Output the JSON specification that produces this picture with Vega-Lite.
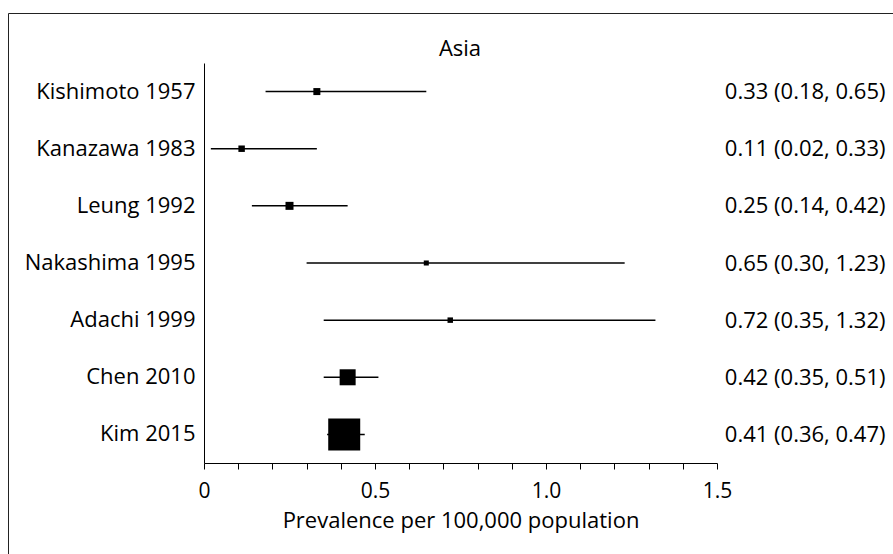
{
  "$schema": "https://vega.github.io/schema/vega-lite/v6.json",
  "autosize": "none",
  "width": 890,
  "height": 545,
  "padding": {"left": 8, "top": 13, "right": -5, "bottom": -4},
  "background": "white",
  "title": {"text": "Asia", "fontSize": 22, "fontWeight": "normal", "font": "Open Sans", "color": "black", "anchor": "middle", "frame": "group", "offset": -48, "dx": 7},
  "data": {
    "values": [
      {"study": "Kishimoto 1957", "order": 1, "est": 0.33, "lo": 0.18, "hi": 0.65, "weight": 3.3, "ci": "0.33 (0.18, 0.65)"},
      {"study": "Kanazawa 1983", "order": 2, "est": 0.11, "lo": 0.02, "hi": 0.33, "weight": 2.8, "ci": "0.11 (0.02, 0.33)"},
      {"study": "Leung 1992", "order": 3, "est": 0.25, "lo": 0.14, "hi": 0.42, "weight": 4.3, "ci": "0.25 (0.14, 0.42)"},
      {"study": "Nakashima 1995", "order": 4, "est": 0.65, "lo": 0.30, "hi": 1.23, "weight": 1.7, "ci": "0.65 (0.30, 1.23)"},
      {"study": "Adachi 1999", "order": 5, "est": 0.72, "lo": 0.35, "hi": 1.32, "weight": 2.0, "ci": "0.72 (0.35, 1.32)"},
      {"study": "Chen 2010", "order": 6, "est": 0.42, "lo": 0.35, "hi": 0.51, "weight": 17.2, "ci": "0.42 (0.35, 0.51)"},
      {"study": "Kim 2015", "order": 7, "est": 0.41, "lo": 0.36, "hi": 0.47, "weight": 68.7, "ci": "0.41 (0.36, 0.47)"}
    ]
  },
  "layer": [
    {
      "encoding": {
        "y": {
          "field": "study", "type": "nominal", "sort": {"field": "order", "op": "min"},
          "scale": {"range": [50, 450], "paddingInner": 0, "paddingOuter": 0},
          "axis": {"orient": "left", "offset": -196, "title": null, "ticks": false, "labelPadding": 9, "labelFontSize": 22, "domainColor": "black", "domainWidth": 1, "grid": false}
        }
      },
      "layer": [
        {
          "mark": {"type": "rule", "color": "black", "strokeWidth": 1.5},
          "encoding": {
            "x": {
              "field": "lo", "type": "quantitative",
              "scale": {"domain": [0, 1.5], "range": [196, 709], "nice": false},
              "axis": {
                "orient": "bottom", "offset": -95,
                "values": [0, 0.1, 0.2, 0.3, 0.4, 0.5, 0.6, 0.7, 0.8, 0.9, 1.0, 1.1, 1.2, 1.3, 1.4, 1.5],
                "labelExpr": "datum.value == 0 ? '0' : (abs(datum.value * 2 - round(datum.value * 2)) < 0.000001 ? format(datum.value, '.1f') : '')",
                "title": "Prevalence per 100,000 population",
                "titleFontSize": 22, "titleFontWeight": "normal", "titlePadding": 9,
                "labelFontSize": 21, "labelPadding": 11, "tickSize": 6,
                "grid": false, "labelFlush": false, "labelOverlap": false
              }
            },
            "x2": {"field": "hi"}
          }
        },
        {
          "mark": {"type": "point", "shape": "square", "filled": true, "color": "black", "opacity": 1, "strokeWidth": 0},
          "encoding": {
            "x": {"field": "est", "type": "quantitative"},
            "size": {"field": "weight", "type": "quantitative", "scale": {"domain": [0, 68.7], "range": [0, 1024], "zero": true}, "legend": null}
          }
        }
      ]
    },
    {
      "mark": {"type": "point", "opacity": 0},
      "encoding": {
        "x": {"field": "est", "type": "quantitative"},
        "y": {
          "field": "ci", "type": "nominal", "sort": {"field": "order", "op": "min"},
          "scale": {"range": [50, 450], "paddingInner": 0, "paddingOuter": 0},
          "axis": {"orient": "right", "offset": -181, "title": null, "ticks": false, "domain": false, "labelAlign": "right", "labelPadding": 168, "labelFontSize": 22, "grid": false}
        }
      }
    }
  ],
  "resolve": {"scale": {"y": "independent"}, "axis": {"y": "independent"}},
  "config": {
    "font": "Open Sans",
    "view": {"stroke": "#222222", "strokeWidth": 1, "fill": "white"},
    "axis": {"labelColor": "black", "titleColor": "black", "domainColor": "black", "tickColor": "black", "labelFont": "Open Sans", "titleFont": "Open Sans"}
  }
}
